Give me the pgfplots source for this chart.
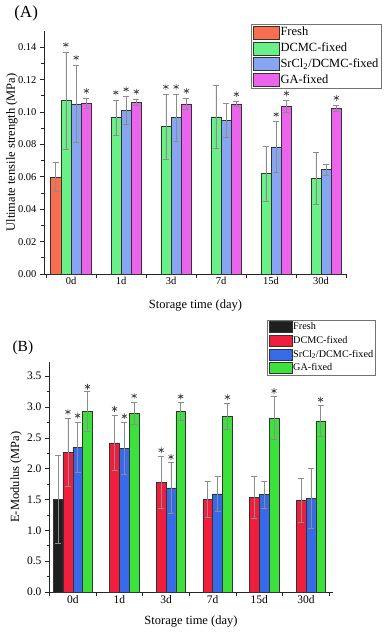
\documentclass[border=0pt]{standalone}
\usepackage{fontspec}
\setmainfont{Liberation Serif}
\usepackage{pgfplots}
\pgfplotsset{compat=1.18}

\definecolor{aFresh}{RGB}{250,110,80}
\definecolor{aDCMC}{RGB}{105,240,135}
\definecolor{aSr}{RGB}{135,165,240}
\definecolor{aGA}{RGB}{235,100,235}
\definecolor{bFresh}{RGB}{30,32,32}
\definecolor{bDCMC}{RGB}{240,30,60}
\definecolor{bSr}{RGB}{55,105,235}
\definecolor{bGA}{RGB}{60,225,60}

\pgfplotsset{
  panel/.style={
    scale only axis,
    axis x line*=bottom, axis y line*=left,
    axis line style={black!85, line width=0.6pt, -},
    tick align=outside,
    major tick length=4bp, minor tick length=2.5bp,
    tick style={black!85, line width=0.6pt},
    xtick={-0.5,0.5,1.5,2.5,3.5,4.5,5.5}, xticklabels={},
    extra x ticks={0,1,2,3,4,5},
    extra x tick labels={0d,1d,3d,7d,15d,30d},
    extra x tick style={major tick length=0pt},
    minor y tick num=1,
    ymin=0,
    /pgf/number format/assume math mode=true,
    xlabel={Storage time (day)},
    label style={font=\fontsize{12.5bp}{14bp}\selectfont},
    legend cell align=left,
    clip=false,
  },
  legA/.style={legend image code/.code={\draw[##1] (0bp,-6.5bp) rectangle (26bp,6.5bp);}},
  legB/.style={legend image code/.code={\draw[##1] (0bp,-5.5bp) rectangle (22.5bp,5.5bp);}},
  errs/.style={error bars/.cd, y dir=both, y explicit, error mark=-,
    error bar style={black!45, line width=0.6pt},
    error mark options={rotate=90, black!45, mark size=3bp, line width=0.6pt}},
  barA/.style={ybar, bar width=0.205, bar shift=0, fill=#1,
    draw=black!80, line width=0.5pt, legA, errs},
  barB/.style={ybar, bar width=0.21, bar shift=0, fill=#1,
    draw=black!80, line width=0.5pt, legB, errs},
  stars/.style={only marks, mark=asterisk, mark size=2.9bp, black!75,
    mark options={line width=0.7pt}, forget plot},
}

\begin{document}
\begin{tikzpicture}
\useasboundingbox (0,0) rectangle (387bp,633bp);

% (A) ultimate tensile strength; bars sit at day index + offset of their series
\begin{axis}[panel,
  at={(44bp,359bp)}, anchor=south west,
  width=303bp, height=243bp,
  xmin=-0.54, xmax=5.52, ymax=0.15,
  ytick={0,0.02,0.04,0.06,0.08,0.10,0.12,0.14},
  yticklabel style={/pgf/number format/.cd, fixed, fixed zerofill, precision=2},
  tick label style={font=\fontsize{10.5bp}{12bp}\selectfont},
  ylabel={Ultimate tensile strength (MPa)},
  ylabel style={at={(axis description cs:-0.106,0.5)}, anchor=center},
  xlabel style={at={(axis description cs:0.5,-0.128)}, anchor=center},
  legend style={at={(1.115,1.029)}, anchor=north east, draw=black!55,
    font=\fontsize{12.5bp}{14bp}\selectfont, inner xsep=2bp, inner ysep=1.5bp,
    row sep=2.4bp, nodes={inner sep=1.2bp}},
]
\addplot[barA=aFresh] coordinates {(-0.3075,0.060) +- (0,0.009)};
\addlegendentry{Fresh}
\addplot[barA=aDCMC] coordinates {
  (-0.1025,0.107) +- (0,0.030) (0.8975,0.0965) +- (0,0.011) (1.8975,0.091) +- (0,0.020)
  (2.8975,0.097) +- (0,0.0195) (3.8975,0.062) +- (0,0.017) (4.8975,0.059) +- (0,0.016)};
\addlegendentry{DCMC-fixed}
\addplot[barA=aSr] coordinates {
  (0.1025,0.105) +- (0,0.024) (1.1025,0.101) +- (0,0.0085) (2.1025,0.0965) +- (0,0.0145)
  (3.1025,0.095) +- (0,0.0105) (4.1025,0.0785) +- (0,0.0155) (5.1025,0.0645) +- (0,0.0035)};
\addlegendentry{SrCl\textsubscript{2}/DCMC-fixed}
\addplot[barA=aGA] coordinates {
  (0.3075,0.1055) +- (0,0.003) (1.3075,0.106) +- (0,0.002) (2.3075,0.105) +- (0,0.0035)
  (3.3075,0.105) +- (0,0.0015) (4.3075,0.1035) +- (0,0.0035) (5.3075,0.1022) +- (0,0.002)};
\addlegendentry{GA-fixed}
\addplot[stars] coordinates {
  (-0.1025,0.1415) (0.1025,0.1335) (0.3075,0.113)
  (0.8975,0.112) (1.1025,0.114) (1.3075,0.1125)
  (1.8975,0.1155) (2.1025,0.1155) (2.3075,0.113)
  (3.3075,0.111) (4.1025,0.0985) (4.3075,0.1115) (5.3075,0.1087)};
\node[font=\fontsize{17bp}{19bp}\selectfont] at (axis description cs:-0.059,1.074) {(A)};
\end{axis}

% (B) E-modulus
\begin{axis}[panel,
  at={(49bp,41bp)}, anchor=south west,
  width=284bp, height=230bp,
  xmin=-0.51, xmax=5.58, ymax=3.73,
  ytick={0,0.5,1.0,1.5,2.0,2.5,3.0,3.5},
  yticklabel style={/pgf/number format/.cd, fixed, fixed zerofill, precision=1},
  tick label style={font=\fontsize{11.5bp}{13bp}\selectfont},
  ylabel={E-Modulus (MPa)},
  ylabel style={at={(axis description cs:-0.116,0.5)}, anchor=center},
  xlabel style={at={(axis description cs:0.5,-0.13)}, anchor=center},
  legend style={at={(1.151,1.183)}, anchor=north east, draw=black!55,
    font=\fontsize{10.2bp}{12bp}\selectfont, inner xsep=1.5bp, inner ysep=1.2bp,
    row sep=2.2bp, nodes={inner sep=1bp}},
]
\addplot[barB=bFresh] coordinates {(-0.315,1.50) +- (0,0.71)};
\addlegendentry{Fresh}
\addplot[barB=bDCMC] coordinates {
  (-0.105,2.27) +- (0,0.55) (0.895,2.42) +- (0,0.45) (1.895,1.78) +- (0,0.42)
  (2.895,1.50) +- (0,0.29) (3.895,1.54) +- (0,0.34) (4.895,1.49) +- (0,0.36)};
\addlegendentry{DCMC-fixed}
\addplot[barB=bSr] coordinates {
  (0.105,2.35) +- (0,0.41) (1.105,2.33) +- (0,0.42) (2.105,1.69) +- (0,0.41)
  (3.105,1.59) +- (0,0.28) (4.105,1.58) +- (0,0.22) (5.105,1.52) +- (0,0.48)};
\addlegendentry{SrCl\textsubscript{2}/DCMC-fixed}
\addplot[barB=bGA] coordinates {
  (0.315,2.93) +- (0,0.32) (1.315,2.90) +- (0,0.18) (2.315,2.93) +- (0,0.14)
  (3.315,2.85) +- (0,0.21) (4.315,2.82) +- (0,0.35) (5.315,2.77) +- (0,0.25)};
\addlegendentry{GA-fixed}
\addplot[stars] coordinates {
  (-0.105,2.92) (0.105,2.86) (0.315,3.33)
  (0.895,2.97) (1.105,2.85) (1.315,3.18)
  (1.895,2.30) (2.105,2.19) (2.315,3.17)
  (3.315,3.16) (4.315,3.26) (5.315,3.12)};
\node[font=\fontsize{15.5bp}{17bp}\selectfont] at (axis description cs:-0.092,1.062) {(B)};
\end{axis}
\end{tikzpicture}
\end{document}
